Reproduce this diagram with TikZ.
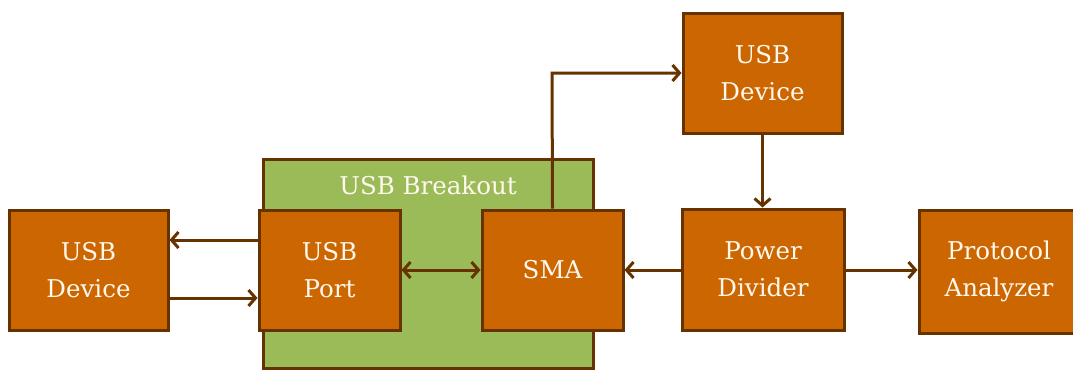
\documentclass[tikz,border=0pt]{standalone}
\usepackage{fontspec}
\setmainfont{DejaVu Serif}
\usetikzlibrary{arrows.meta}
\definecolor{orng}{HTML}{CC6600}
\definecolor{grn}{HTML}{9BBB59}
\definecolor{brn}{HTML}{663300}
\definecolor{txt}{HTML}{FFF8EE}
\tikzset{
  blk/.style={draw=brn, fill=orng, line width=3pt, text=txt, font=\fontsize{24.5}{37}\selectfont, align=center, inner sep=0pt},
  conn/.style={draw=brn, line width=3pt, -{Straight Barb[length=7pt,width=16pt,line width=3pt]}},
  conn2/.style={draw=brn, line width=3pt, {Straight Barb[length=7pt,width=16pt,line width=3pt]}-{Straight Barb[length=7pt,width=16pt,line width=3pt]}}
}
\begin{document}
\begin{tikzpicture}[x=1pt,y=-1pt]
\useasboundingbox (0,0) rectangle (1073,370);
\begin{scope}
\clip (0,0) rectangle (1073,370);
\node[draw=brn, fill=grn, line width=3pt, minimum width=330pt, minimum height=209pt, inner sep=0pt] (brk) at (428,263.5) {};
\node[text=txt, font=\fontsize{24.5}{30}\selectfont, anchor=center] (brkl) at (428,185) {USB Breakout};
\node[blk, minimum width=159pt, minimum height=120pt] (dev1) at (88.5,270) {USB\\Device};
\node[blk, minimum width=141pt, minimum height=120pt] (port) at (329.5,270) {USB\\Port};
\node[blk, minimum width=141pt, minimum height=120pt] (sma) at (552.5,270) {SMA};
\node[blk, minimum width=159pt, minimum height=120pt] (dev2) at (762.5,73) {USB\\Device};
\node[blk, minimum width=162pt, minimum height=121pt] (pd) at (763,269.5) {Power\\Divider};
\node[blk, minimum width=160pt, minimum height=123pt] (pa) at (999,271.5) {Protocol\\Analyzer};
\end{scope}
\draw[conn] (port.west |- 0,240) -- (dev1.east |- 0,240);
\draw[conn] (dev1.east |- 0,298) -- (port.west |- 0,298);
\draw[conn2] (port.east) -- (sma.west);
\draw[conn] (pd.west |- sma.east) -- (sma.east);
\draw[conn] (sma.north) -- (552,73) -- (dev2.west);
\draw[conn] (dev2.south) -- (dev2.south |- pd.north);
\draw[conn] (pd.east |- 0,270) -- (pa.west |- 0,270);
\end{tikzpicture}
\end{document}
